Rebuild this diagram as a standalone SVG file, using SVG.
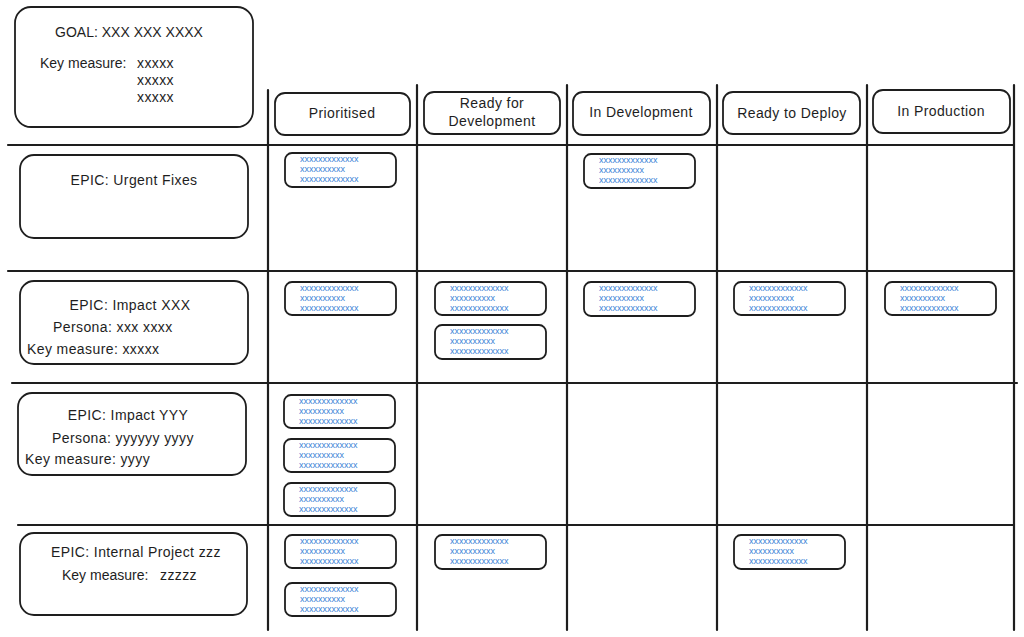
<svg xmlns="http://www.w3.org/2000/svg" width="1024" height="637" viewBox="0 0 1024 637">
<style>
.bg{fill:#ffffff}
.grid line{stroke:#1e1e1e;stroke-width:2.2;stroke-linecap:round}
.box{fill:#ffffff;stroke:#1e1e1e;stroke-width:1.8}
.card rect{fill:#ffffff;stroke:#1e1e1e;stroke-width:1.8}
.t{font-family:"Liberation Sans","DejaVu Sans",sans-serif;font-size:14px;fill:#1e1e1e;letter-spacing:0.4px}
.g{letter-spacing:0}
.c{text-anchor:middle}
.ct{font-family:"Liberation Sans","DejaVu Sans",sans-serif;font-size:9px;fill:#3b82d6}
</style>
<rect class="bg" x="0" y="0" width="1024" height="637"/>
<g id="grid" class="grid">
<line x1="8" y1="145" x2="1014" y2="145"/>
<line x1="8" y1="271" x2="1014" y2="271"/>
<line x1="12" y1="383" x2="1017" y2="383"/>
<line x1="18" y1="525" x2="1014" y2="525"/>
<line x1="268" y1="90" x2="268" y2="630"/>
<line x1="417" y1="85" x2="417" y2="630"/>
<line x1="567" y1="85" x2="567" y2="630"/>
<line x1="717" y1="85" x2="717" y2="630"/>
<line x1="867" y1="85" x2="867" y2="630"/>
<line x1="1014" y1="85" x2="1014" y2="630"/>
</g>
<g id="goal">
<rect class="box" x="15" y="7" width="238" height="120" rx="16"/>
<text class="t c g" x="129" y="37">GOAL: XXX XXX XXXX</text>
<text class="t g" x="40" y="68">Key measure:</text>
<text class="t" x="137" y="68">xxxxx</text>
<text class="t" x="137" y="85">xxxxx</text>
<text class="t" x="137" y="102">xxxxx</text>
</g>
<g id="col-prioritised">
<rect class="box" x="275" y="93" width="135" height="42" rx="10"/>
<text class="t c" x="342" y="118">Prioritised</text>
</g>
<g id="col-ready-dev">
<rect class="box" x="424" y="92" width="136" height="42" rx="10"/>
<text class="t c" x="492" y="108">Ready for</text>
<text class="t c" x="492" y="126">Development</text>
</g>
<g id="col-in-dev">
<rect class="box" x="573" y="92" width="137" height="43" rx="10"/>
<text class="t c" x="641" y="117">In Development</text>
</g>
<g id="col-ready-deploy">
<rect class="box" x="723" y="92" width="137" height="42" rx="10"/>
<text class="t c" x="792" y="118">Ready to Deploy</text>
</g>
<g id="col-in-production">
<rect class="box" x="873" y="90" width="137" height="43" rx="10"/>
<text class="t c" x="941" y="116">In Production</text>
</g>
<g id="epic-urgent">
<rect class="box" x="20" y="155" width="228" height="83" rx="14"/>
<text class="t c" x="134" y="185">EPIC: Urgent Fixes</text>
</g>
<g id="epic-impact-xxx">
<rect class="box" x="20" y="281" width="228" height="83" rx="14"/>
<text class="t c" x="130" y="310">EPIC: Impact XXX</text>
<text class="t" x="53" y="332">Persona: xxx xxxx</text>
<text class="t" x="27" y="354">Key measure: xxxxx</text>
</g>
<g id="epic-impact-yyy">
<rect class="box" x="18" y="393" width="228" height="82" rx="14"/>
<text class="t c" x="128" y="420">EPIC: Impact YYY</text>
<text class="t" x="52" y="443">Persona: yyyyyy yyyy</text>
<text class="t" x="25" y="464">Key measure: yyyy</text>
</g>
<g id="epic-internal">
<rect class="box" x="20" y="533" width="227" height="82" rx="14"/>
<text class="t" x="51" y="557">EPIC: Internal Project zzz</text>
<text class="t g" x="62" y="580">Key measure:</text>
<text class="t" x="160" y="580">zzzzz</text>
</g>
<g id="card-1" class="card" transform="translate(285,153)"><rect width="111" height="34" rx="7"/><text class="ct" x="15" y="9">xxxxxxxxxxxxx</text><text class="ct" x="15" y="19">xxxxxxxxxx</text><text class="ct" x="15" y="29">xxxxxxxxxxxxx</text></g>
<g id="card-2" class="card" transform="translate(584,154)"><rect width="111" height="34" rx="7"/><text class="ct" x="15" y="9">xxxxxxxxxxxxx</text><text class="ct" x="15" y="19">xxxxxxxxxx</text><text class="ct" x="15" y="29">xxxxxxxxxxxxx</text></g>
<g id="card-3" class="card" transform="translate(285,282)"><rect width="111" height="33" rx="7"/><text class="ct" x="15" y="9">xxxxxxxxxxxxx</text><text class="ct" x="15" y="19">xxxxxxxxxx</text><text class="ct" x="15" y="29">xxxxxxxxxxxxx</text></g>
<g id="card-4" class="card" transform="translate(435,282)"><rect width="111" height="33" rx="7"/><text class="ct" x="15" y="9">xxxxxxxxxxxxx</text><text class="ct" x="15" y="19">xxxxxxxxxx</text><text class="ct" x="15" y="29">xxxxxxxxxxxxx</text></g>
<g id="card-5" class="card" transform="translate(435,325)"><rect width="111" height="34" rx="7"/><text class="ct" x="15" y="9">xxxxxxxxxxxxx</text><text class="ct" x="15" y="19">xxxxxxxxxx</text><text class="ct" x="15" y="29">xxxxxxxxxxxxx</text></g>
<g id="card-6" class="card" transform="translate(584,282)"><rect width="111" height="34" rx="7"/><text class="ct" x="15" y="9">xxxxxxxxxxxxx</text><text class="ct" x="15" y="19">xxxxxxxxxx</text><text class="ct" x="15" y="29">xxxxxxxxxxxxx</text></g>
<g id="card-7" class="card" transform="translate(734,282)"><rect width="111" height="33" rx="7"/><text class="ct" x="15" y="9">xxxxxxxxxxxxx</text><text class="ct" x="15" y="19">xxxxxxxxxx</text><text class="ct" x="15" y="29">xxxxxxxxxxxxx</text></g>
<g id="card-8" class="card" transform="translate(885,282)"><rect width="111" height="33" rx="7"/><text class="ct" x="15" y="9">xxxxxxxxxxxxx</text><text class="ct" x="15" y="19">xxxxxxxxxx</text><text class="ct" x="15" y="29">xxxxxxxxxxxxx</text></g>
<g id="card-9" class="card" transform="translate(284,395)"><rect width="111" height="33" rx="7"/><text class="ct" x="15" y="9">xxxxxxxxxxxxx</text><text class="ct" x="15" y="19">xxxxxxxxxx</text><text class="ct" x="15" y="29">xxxxxxxxxxxxx</text></g>
<g id="card-10" class="card" transform="translate(284,439)"><rect width="111" height="33" rx="7"/><text class="ct" x="15" y="9">xxxxxxxxxxxxx</text><text class="ct" x="15" y="19">xxxxxxxxxx</text><text class="ct" x="15" y="29">xxxxxxxxxxxxx</text></g>
<g id="card-11" class="card" transform="translate(284,483)"><rect width="111" height="33" rx="7"/><text class="ct" x="15" y="9">xxxxxxxxxxxxx</text><text class="ct" x="15" y="19">xxxxxxxxxx</text><text class="ct" x="15" y="29">xxxxxxxxxxxxx</text></g>
<g id="card-12" class="card" transform="translate(285,535)"><rect width="111" height="33" rx="7"/><text class="ct" x="15" y="9">xxxxxxxxxxxxx</text><text class="ct" x="15" y="19">xxxxxxxxxx</text><text class="ct" x="15" y="29">xxxxxxxxxxxxx</text></g>
<g id="card-13" class="card" transform="translate(285,583)"><rect width="111" height="33" rx="7"/><text class="ct" x="15" y="9">xxxxxxxxxxxxx</text><text class="ct" x="15" y="19">xxxxxxxxxx</text><text class="ct" x="15" y="29">xxxxxxxxxxxxx</text></g>
<g id="card-14" class="card" transform="translate(435,535)"><rect width="111" height="34" rx="7"/><text class="ct" x="15" y="9">xxxxxxxxxxxxx</text><text class="ct" x="15" y="19">xxxxxxxxxx</text><text class="ct" x="15" y="29">xxxxxxxxxxxxx</text></g>
<g id="card-15" class="card" transform="translate(734,535)"><rect width="111" height="34" rx="7"/><text class="ct" x="15" y="9">xxxxxxxxxxxxx</text><text class="ct" x="15" y="19">xxxxxxxxxx</text><text class="ct" x="15" y="29">xxxxxxxxxxxxx</text></g>
</svg>
